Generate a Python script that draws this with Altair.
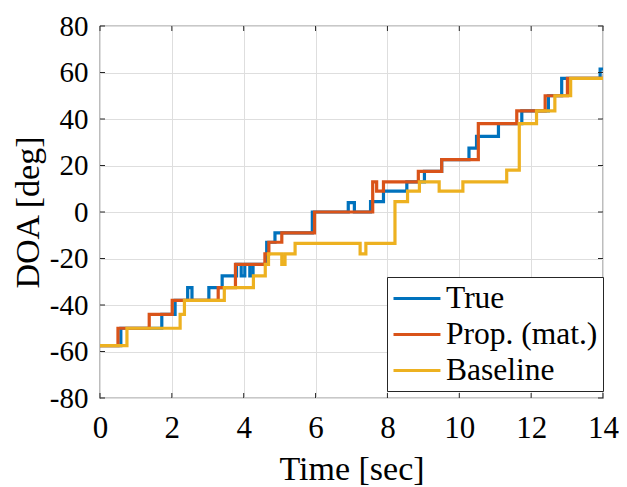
import altair as alt
import pandas as pd

# ---- data (step changes: time [s], DOA [deg]) ----
true_t = [0, 0.58, 1.72, 2.09, 2.44, 2.56, 3.03, 3.40, 3.80, 3.93, 4.03, 4.17, 4.26,
          4.64, 4.87, 5.91, 6.91, 7.08, 7.53, 7.89, 8.54, 9.03, 9.51, 10.27, 10.48,
          11.09, 11.74, 12.48, 12.85, 13.92, 14.0]
true_v = [-57.5, -50, -44, -38, -32.5, -38, -32.5, -27.5, -22.5, -27.5, -22.5, -27.5, -22.5,
          -13, -9, 0, 4, 0, 4.5, 9, 13, 17.5, 22.5, 27.5, 32.5,
          38, 43.5, 50, 57.5, 61.5, 61.5]

prop_t = [0, 0.50, 1.37, 2.01, 3.29, 3.77, 4.59, 4.70, 5.06, 5.97, 7.59, 7.70, 7.89,
          8.86, 9.51, 10.53, 11.60, 12.39, 13.01, 14.0]
prop_v = [-57.5, -50, -44, -38, -32.5, -22.5, -18, -13, -9, 0, 13, 9, 13,
          17.5, 22.5, 38, 43.5, 50, 57.5, 57.5]

base_t = [0, 0.75, 2.23, 2.35, 3.46, 4.27, 4.60, 4.69, 5.06, 5.15, 5.43, 7.24, 7.40,
          8.21, 8.56, 8.89, 9.44, 10.10, 11.32, 11.67, 12.15, 12.66, 13.10, 14.0]
base_v = [-57.5, -50, -44, -38, -32.5, -27.5, -22.5, -18, -22.5, -18, -13.5, -18, -13.5,
          4.5, 9, 13, 9, 13, 18, 38, 43.5, 50, 57.5, 57.5]

series_names = ["True", "Prop. (mat.)", "Baseline"]
series_colors = ["#0072BD", "#D95319", "#EDB120"]

x_ticks = [0, 2, 4, 6, 8, 10, 12, 14]
y_ticks = [-80, -60, -40, -20, 0, 20, 40, 60, 80]

rows = []
for name, ts, vs, order in [(series_names[0], true_t, true_v, 0),
                            (series_names[1], prop_t, prop_v, 1),
                            (series_names[2], base_t, base_v, 2)]:
    for t, v in zip(ts, vs):
        rows.append({"t": t, "v": v, "series": name, "ord": order})
df = pd.DataFrame(rows)

W, H = 503, 372
FONT = "Liberation Serif"
FRAME = "#262626"
XLABEL_FS = 31
YLABEL_FS = 29
TITLE_FS = 34

xscale = alt.Scale(domain=[0, 14], nice=False)
yscale = alt.Scale(domain=[-80, 80], nice=False)

lines = alt.Chart(df).mark_line(interpolate="step-after", strokeWidth=3.2, clip=True).encode(
    x=alt.X("t:Q", scale=xscale,
            axis=alt.Axis(title="Time [sec]", values=x_ticks, labelExpr="datum.value",
                          grid=True, gridColor="#dedede", domain=False, ticks=False,
                          tickSize=0, labelPadding=15, titlePadding=9, labelFlush=False,
                          labelOverlap=False, labelFont=FONT, titleFont=FONT,
                          labelFontSize=XLABEL_FS, titleFontSize=TITLE_FS)),
    y=alt.Y("v:Q", scale=yscale,
            axis=alt.Axis(title="DOA [deg]", values=y_ticks, labelExpr="datum.value",
                          grid=True, gridColor="#dedede", domain=False, ticks=False,
                          tickSize=0, labelPadding=12, titlePadding=4, labelFlush=False,
                          labelOverlap=False, labelFont=FONT, titleFont=FONT,
                          labelFontSize=YLABEL_FS, titleFontSize=TITLE_FS)),
    color=alt.Color("series:N",
                    scale=alt.Scale(domain=series_names, range=series_colors),
                    legend=alt.Legend(title=None, orient="none", legendX=287, legendY=251,
                                      symbolType="M-1,0L2.13,0", symbolStrokeWidth=3,
                                      symbolSize=900, labelFontSize=31.5, labelFont=FONT,
                                      labelColor="black", labelOffset=21, rowPadding=4,
                                      padding=5, fillColor="white", strokeColor=FRAME,
                                      labelLimit=400)),
    order="ord:Q",
    detail="series:N",
)

ytick_df = pd.DataFrame({"v": y_ticks})
xtick_df = pd.DataFrame({"t": x_ticks})

ytl = alt.Chart(ytick_df).mark_rule(color=FRAME, strokeWidth=1).encode(
    y=alt.Y("v:Q", scale=yscale), x=alt.value(0), x2=alt.value(5))
ytr = alt.Chart(ytick_df).mark_rule(color=FRAME, strokeWidth=1).encode(
    y=alt.Y("v:Q", scale=yscale), x=alt.value(W - 5), x2=alt.value(W))
xtb = alt.Chart(xtick_df).mark_rule(color=FRAME, strokeWidth=1).encode(
    x=alt.X("t:Q", scale=xscale), y=alt.value(H - 5), y2=alt.value(H))
xtt = alt.Chart(xtick_df).mark_rule(color=FRAME, strokeWidth=1).encode(
    x=alt.X("t:Q", scale=xscale), y=alt.value(0), y2=alt.value(5))

chart = alt.layer(lines, ytl, ytr, xtb, xtt).properties(
    width=W, height=H,
    autosize=alt.AutoSizeParams(type="none"),
    padding={"left": 92, "top": 18, "right": 16, "bottom": 89},
).configure(
    font=FONT,
).configure_view(
    stroke=FRAME, strokeWidth=1.2
).configure_axis(
    labelColor="black", titleColor="black", titleFontWeight="normal",
    gridOpacity=1
)

chart.save("out.html", embed_options={"renderer": "svg", "actions": False})
